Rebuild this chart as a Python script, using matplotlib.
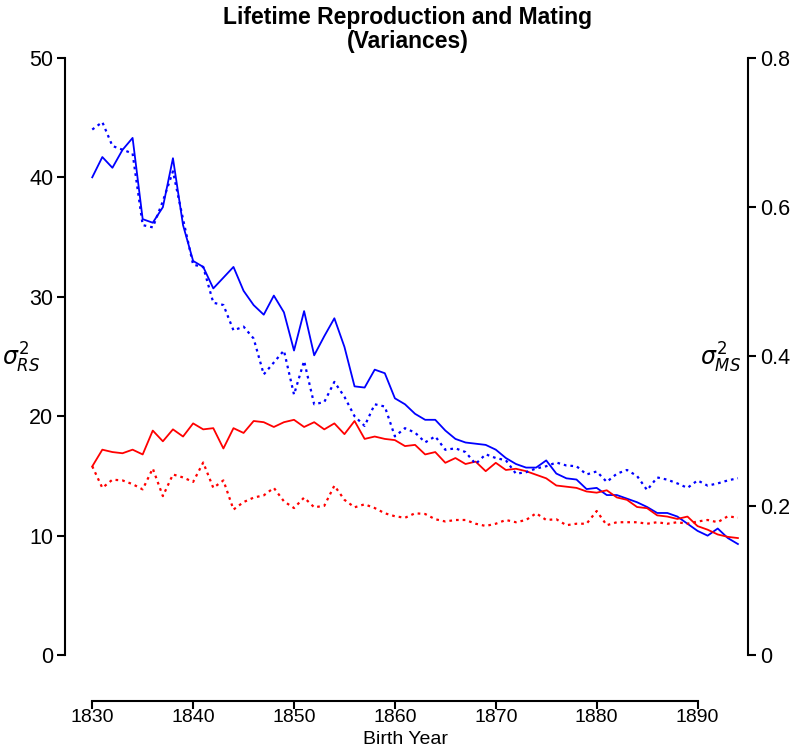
import matplotlib
matplotlib.use("Agg")
import matplotlib.pyplot as plt
from matplotlib.ticker import FixedLocator, FuncFormatter

plt.rcParams['font.family'] = ['Liberation Sans', 'DejaVu Sans']

years = list(range(1830, 1895))

# Variance in reproductive success (left axis)
rs_blue = [40.0, 41.7, 40.8, 42.3, 43.3, 36.5, 36.2, 37.5, 41.6, 36.0,
           33.0, 32.5, 30.7, 31.6, 32.5, 30.5, 29.3, 28.5, 30.1, 28.7,
           25.5, 28.8, 25.1, 26.7, 28.2, 25.8, 22.5, 22.4, 23.9, 23.6,
           21.5, 21.0, 20.2, 19.7, 19.7, 18.8, 18.1, 17.8, 17.7, 17.6,
           17.2, 16.5, 16.0, 15.7, 15.7, 16.3, 15.2, 14.8, 14.7, 13.9,
           14.0, 13.4, 13.4, 13.1, 12.8, 12.4, 11.9, 11.9, 11.6, 11.0,
           10.4, 10.0, 10.6, 9.8, 9.3]
rs_red = [15.8, 17.2, 17.0, 16.9, 17.2, 16.8, 18.8, 17.9, 18.9, 18.3,
          19.4, 18.9, 19.0, 17.3, 19.0, 18.6, 19.6, 19.5, 19.1, 19.5,
          19.7, 19.1, 19.5, 18.9, 19.4, 18.5, 19.6, 18.1, 18.3, 18.1,
          18.0, 17.5, 17.6, 16.8, 17.0, 16.1, 16.5, 16.0, 16.2, 15.4,
          16.1, 15.5, 15.6, 15.4, 15.1, 14.8, 14.2, 14.1, 14.0, 13.7,
          13.6, 13.8, 13.2, 13.0, 12.4, 12.3, 11.7, 11.6, 11.4, 11.6,
          10.8, 10.5, 10.1, 9.9, 9.8]

# Variance in mating success (right axis)
ms_blue = [0.704, 0.714, 0.682, 0.677, 0.672, 0.576, 0.573, 0.608, 0.648, 0.584,
           0.523, 0.520, 0.472, 0.469, 0.435, 0.440, 0.424, 0.376, 0.392, 0.408,
           0.349, 0.394, 0.336, 0.339, 0.366, 0.346, 0.320, 0.307, 0.336, 0.333,
           0.293, 0.304, 0.298, 0.285, 0.293, 0.275, 0.277, 0.272, 0.256, 0.269,
           0.264, 0.261, 0.243, 0.245, 0.250, 0.253, 0.258, 0.254, 0.253, 0.242,
           0.246, 0.232, 0.243, 0.248, 0.240, 0.221, 0.238, 0.235, 0.230, 0.224,
           0.234, 0.227, 0.230, 0.234, 0.237]
ms_red = [0.253, 0.224, 0.235, 0.234, 0.229, 0.222, 0.250, 0.213, 0.242, 0.238,
          0.232, 0.258, 0.224, 0.234, 0.195, 0.205, 0.211, 0.214, 0.224, 0.206,
          0.197, 0.211, 0.198, 0.200, 0.227, 0.208, 0.198, 0.202, 0.197, 0.190,
          0.186, 0.184, 0.190, 0.189, 0.182, 0.179, 0.181, 0.181, 0.176, 0.173,
          0.176, 0.181, 0.178, 0.181, 0.190, 0.181, 0.182, 0.174, 0.176, 0.176,
          0.193, 0.174, 0.178, 0.178, 0.178, 0.176, 0.178, 0.176, 0.178, 0.176,
          0.179, 0.181, 0.178, 0.186, 0.184]

left_ticks = [0, 10, 20, 30, 40, 50]
right_ticks = [0, 0.2, 0.4, 0.6, 0.8]
x_ticks = [1830, 1840, 1850, 1860, 1870, 1880, 1890]

W, H = 800, 747
fig = plt.figure(figsize=(W / 100, H / 100), dpi=100)
ax = fig.add_axes([65 / W, (H - 679) / H, (748 - 65) / W, (679 - 34) / H])
ax2 = ax.twinx()

BLUE = '#0000ff'
RED = '#ff0000'
dot = (0, (1.2, 1.8))
ax.plot(years, rs_blue, color=BLUE, lw=1.3)
ax.plot(years, rs_red, color=RED, lw=1.3)
ax2.plot(years, ms_blue, color=BLUE, lw=1.6, linestyle=dot)
ax2.plot(years, ms_red, color=RED, lw=1.6, linestyle=dot)

ax.set_xlim(1827.3, 1895.0)
ax.set_ylim(-2, 52)
ax2.set_ylim(-0.032, 0.832)

fs = 15.5
fsx = 14
for a in (ax, ax2):
    a.spines['top'].set_visible(False)
    a.patch.set_visible(False)

ax.spines['right'].set_visible(False)
ax2.spines['left'].set_visible(False)
ax2.spines['bottom'].set_visible(False)

ax.spines['left'].set_bounds(0, 50)
ax2.spines['right'].set_bounds(0, 0.8)
ax.spines['bottom'].set_bounds(1830, 1890)
ax.spines['bottom'].set_position(('outward', 15.5))
for s in (ax.spines['left'], ax.spines['bottom'], ax2.spines['right']):
    s.set_linewidth(1.5)

ax.yaxis.set_major_locator(FixedLocator(left_ticks))
ax2.yaxis.set_major_locator(FixedLocator(right_ticks))
ax2.yaxis.set_major_formatter(FuncFormatter(lambda v, p: ('%g' % v)))
ax.xaxis.set_major_locator(FixedLocator(x_ticks))

ax.tick_params(axis='y', direction='out', length=5.5, width=1.5, labelsize=fs, pad=3)
ax.tick_params(axis='x', direction='out', length=5.5, width=1.5, labelsize=fsx, pad=0.5)
ax2.tick_params(axis='y', direction='out', length=5.5, width=1.5, labelsize=fs, pad=3)

fig.text(406 / W, 1 - 739 / H, 'Birth Year', fontsize=fsx, ha='center', va='center')

fig.text(21 / W, 1 - 358 / H, r'$\sigma^2_{RS}$', fontsize=17, ha='center', va='center')
fig.text(741 / W, 1 - 358 / H, r'$\sigma^2_{MS}$', fontsize=17, ha='right', va='center')

fig.text(408 / W, 1 - 6 / H, 'Lifetime Reproduction and Mating\n(Variances)',
         fontsize=16.5, fontweight='bold', ha='center', va='top', linespacing=1.08)

fig.savefig('out.png', dpi=100)
